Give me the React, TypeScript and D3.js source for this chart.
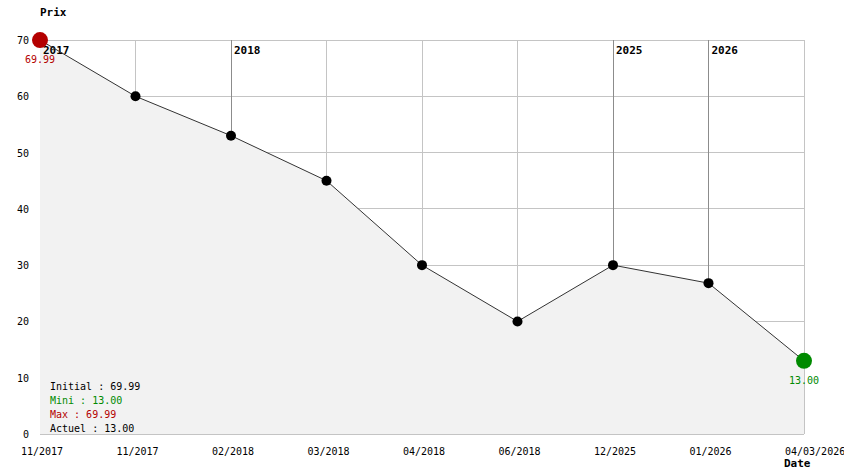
import React from "react";
import * as d3 from "d3";

const categories = ["11/2017", "11/2017", "02/2018", "03/2018", "04/2018", "06/2018", "12/2025", "01/2026", "04/03/2026"];
const prices = [69.99, 60, 53, 45, 30, 20, 30, 26.8, 13];
const yTicks = [0, 10, 20, 30, 40, 50, 60, 70];
const yearMarks = [
  { index: 0, label: "2017" },
  { index: 2, label: "2018" },
  { index: 6, label: "2025" },
  { index: 7, label: "2026" },
];
const legend = [
  { text: "Initial : 69.99", color: "#000000" },
  { text: "Mini : 13.00", color: "#008a00" },
  { text: "Max : 69.99", color: "#b40000" },
  { text: "Actuel : 13.00", color: "#000000" },
];

const W = 844, H = 474;
const left = 40, right = 804, top = 40, bottom = 434;
const font = "'DejaVu Sans Mono', 'Liberation Mono', monospace";

export default function App() {
  const x = d3.scaleLinear().domain([0, categories.length - 1]).range([left, right]);
  const y = d3.scaleLinear().domain([0, 70]).range([bottom, top]);
  const pts = prices.map((v, i) => [x(i), y(v)] as [number, number]);
  const line = d3.line<[number, number]>()(pts) || "";
  const area = d3.area<[number, number]>().x(d => d[0]).y0(bottom).y1(d => d[1])(pts) || "";
  const maxI = prices.indexOf(d3.max(prices)!);
  const minI = prices.lastIndexOf(d3.min(prices)!);

  return (
    <svg width={W} height={H} style={{ position: "absolute", left: 0, top: 0, background: "#fff" }} fontFamily={font}>
      {yTicks.map(t => (
        <line key={"h" + t} x1={left} x2={right} y1={y(t)} y2={y(t)} stroke="#c4c4c4" strokeWidth={1} shapeRendering="crispEdges" />
      ))}
      {categories.map((c, i) => (
        <line key={"v" + i} x1={x(i)} x2={x(i)} y1={top} y2={bottom} stroke="#c4c4c4" strokeWidth={1} shapeRendering="crispEdges" />
      ))}
      <path d={area} fill="#f2f2f2" stroke="none" />
      {yearMarks.map(m => (
        <g key={m.label}>
          <line x1={x(m.index)} x2={x(m.index)} y1={top} y2={y(prices[m.index])} stroke="#8c8c8c" strokeWidth={1} shapeRendering="crispEdges" />
          <text x={x(m.index) + 3} y={54} fontSize={11} fontWeight="bold" fill="#000">{m.label}</text>
        </g>
      ))}
      <path d={line} fill="none" stroke="#333" strokeWidth={1} />
      {pts.map((p, i) => (i === maxI || i === minI) ? null : (
        <circle key={"c" + i} cx={p[0]} cy={p[1]} r={5} fill="#000" />
      ))}
      <circle cx={pts[maxI][0]} cy={pts[maxI][1]} r={8} fill="#b40000" />
      <circle cx={pts[minI][0]} cy={pts[minI][1]} r={8} fill="#008a00" />
      <text x={pts[maxI][0]} y={pts[maxI][1] + 23} fontSize={10} fill="#b40000" textAnchor="middle">{prices[maxI].toFixed(2)}</text>
      <text x={pts[minI][0]} y={pts[minI][1] + 23} fontSize={10} fill="#008a00" textAnchor="middle">{prices[minI].toFixed(2)}</text>
      {yTicks.map(t => (
        <text key={"yt" + t} x={29} y={y(t) + 4} fontSize={10} textAnchor="end" fill="#000">{t}</text>
      ))}
      {categories.map((c, i) => (
        <text key={"xt" + i} x={x(i) - 19} y={455} fontSize={10} fill="#000">{c}</text>
      ))}
      {legend.map((l, i) => (
        <text key={"lg" + i} x={50} y={390 + i * 14} fontSize={10} fill={l.color}>{l.text}</text>
      ))}
      <text x={40} y={16} fontSize={11} fontWeight="bold" fill="#000">Prix</text>
      <text x={784} y={467} fontSize={11} fontWeight="bold" fill="#000">Date</text>
    </svg>
  );
}
